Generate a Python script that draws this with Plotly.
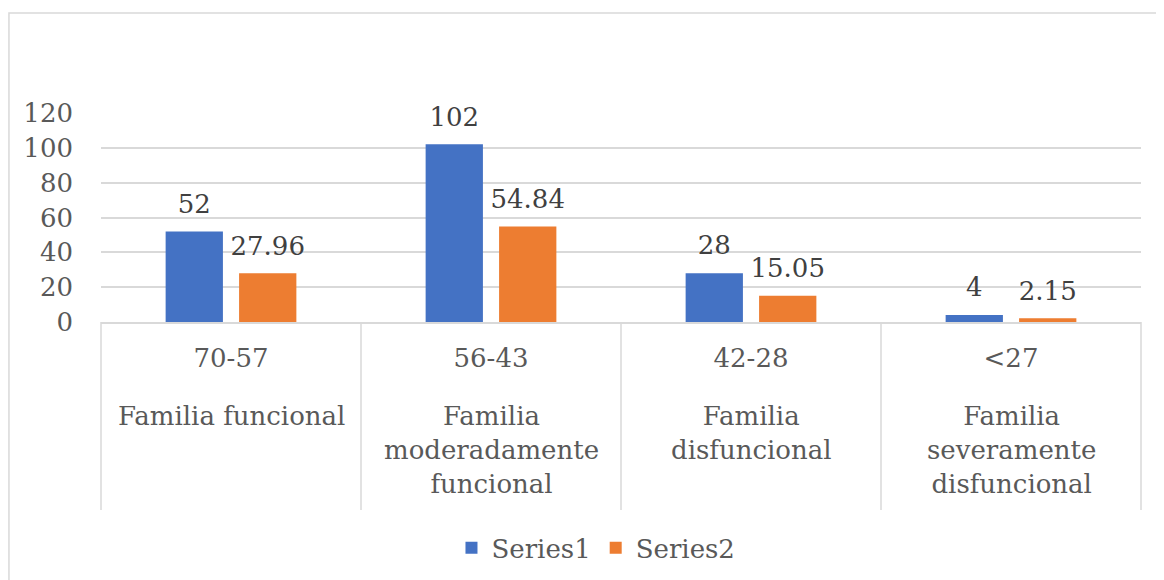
import plotly.graph_objects as go

ranges = ["70-57", "56-43", "42-28", "<27"]
groups = ["Familia funcional", "Familia<br>moderadamente<br>funcional",
          "Familia<br>disfuncional", "Familia<br>severamente<br>disfuncional"]
series1 = [52, 102, 28, 4]
series2 = [27.96, 54.84, 15.05, 2.15]
series1_labels = ["52", "102", "28", "4"]
series2_labels = ["27.96", "54.84", "15.05", "2.15"]
y_ticks = [0, 20, 40, 60, 80, 100, 120]

FONT = "DejaVu Serif"
FS = 26
GRID = "#d9d9d9"
TXT = "#595959"
COLORS = ["#4472C4", "#ED7D31"]

fig = go.Figure()
for name, vals, col in (("Series1", series1, COLORS[0]), ("Series2", series2, COLORS[1])):
    fig.add_trace(go.Bar(name=name, x=ranges, y=vals,
                         marker=dict(color=col, line=dict(width=0)),
                         hoverinfo="x+y"))
# data labels: invisible grouped scatter points aligned with the bars
for name, vals, labels in (("Series1", series1, series1_labels), ("Series2", series2, series2_labels)):
    fig.add_trace(go.Scatter(x=ranges, y=vals, text=labels, mode="markers+text",
                             textposition="top center", orientation="v",
                             marker=dict(size=18, color="rgba(0,0,0,0)"),
                             textfont=dict(family=FONT, size=FS, color="#404040"),
                             showlegend=False, hoverinfo="skip", cliponaxis=False))

annotations = [dict(x=r, xref="x", y=-0.37, yref="paper", yanchor="top", xanchor="center",
                    text=g, showarrow=False, align="center",
                    font=dict(family=FONT, size=FS, color=TXT))
               for r, g in zip(ranges, groups)]

shapes = [dict(type="rect", xref="paper", yref="paper", x0=-0.0885, x1=1.2,
               y0=-1.6, y1=1.478, line=dict(color=GRID, width=1.5),
               fillcolor="rgba(0,0,0,0)", layer="below")]
shapes += [dict(type="line", xref="x domain", x0=d, x1=d, yref="paper", y0=0, y1=-0.9,
                line=dict(color=GRID, width=1.5)) for d in (0, 1)]
shapes += [dict(type="line", xref="x", x0=i + 0.5, x1=i + 0.5, yref="paper", y0=0, y1=-0.9,
                line=dict(color=GRID, width=1.5)) for i in range(len(ranges) - 1)]

fig.update_layout(
    width=1164, height=580,
    margin=dict(l=93, r=31, t=105, b=266),
    paper_bgcolor="white", plot_bgcolor="white",
    barmode="group", bargap=0.435, bargroupgap=0.22,
    scattermode="group", scattergap=0.435,
    font=dict(family=FONT, size=FS, color=TXT),
    showlegend=True,
    legend=dict(orientation="h", x=0.337, xanchor="left", y=-1.081, yanchor="middle",
                font=dict(family=FONT, size=FS, color=TXT),
                itemwidth=30, tracegroupgap=0),
    annotations=annotations,
    shapes=shapes,
)
fig.update_xaxes(type="category", showline=True, linecolor=GRID, linewidth=1.5,
                 tickfont=dict(family=FONT, size=FS, color=TXT),
                 showgrid=False, ticks="", ticklabelstandoff=12, automargin=False)
fig.update_yaxes(range=[0, 120], tickvals=y_ticks, showgrid=True, gridcolor=GRID,
                 gridwidth=1.5, zeroline=False, showline=False, ticks="",
                 ticklabelstandoff=27, automargin=False,
                 tickfont=dict(family=FONT, size=FS, color=TXT))

fig.write_html("out.html")
